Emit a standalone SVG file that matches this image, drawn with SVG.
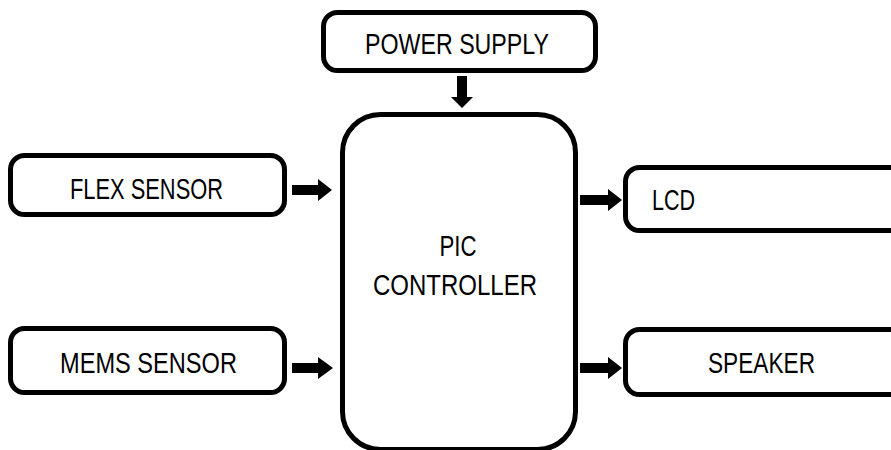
<svg xmlns="http://www.w3.org/2000/svg" width="891" height="450" viewBox="0 0 891 450">
<style>
.box{fill:#fff;stroke:#000;stroke-width:5}
.lbl{font-family:"Liberation Sans",Arial,sans-serif;font-size:29px;fill:#000}
.arr{fill:#000;stroke:none}
</style>
<rect width="891" height="450" fill="#fff"/>
<g id="power">
<rect class="box" x="323.5" y="12.5" width="272" height="58" rx="14"/>
<text class="lbl" x="457" y="54" text-anchor="middle" textLength="184" lengthAdjust="spacingAndGlyphs">POWER SUPPLY</text>
</g>
<g id="flex">
<rect class="box" x="10.5" y="155.5" width="274" height="59" rx="14"/>
<text class="lbl" x="146.5" y="199" text-anchor="middle" textLength="153" lengthAdjust="spacingAndGlyphs">FLEX SENSOR</text>
</g>
<g id="mems">
<rect class="box" x="10.5" y="328.5" width="274" height="64" rx="14"/>
<text class="lbl" x="148.5" y="373" text-anchor="middle" textLength="177" lengthAdjust="spacingAndGlyphs">MEMS SENSOR</text>
</g>
<g id="pic">
<rect class="box" x="342.5" y="114.5" width="233" height="335" rx="38"/>
<text class="lbl" x="458" y="256" text-anchor="middle" textLength="37" lengthAdjust="spacingAndGlyphs">PIC</text>
<text class="lbl" x="455" y="295" text-anchor="middle" textLength="164" lengthAdjust="spacingAndGlyphs">CONTROLLER</text>
</g>
<g id="lcd">
<rect class="box" x="625.5" y="167.5" width="300" height="63" rx="14"/>
<text class="lbl" x="652" y="210" textLength="43" lengthAdjust="spacingAndGlyphs">LCD</text>
</g>
<g id="speaker">
<rect class="box" x="625.5" y="329.5" width="300" height="65" rx="14"/>
<text class="lbl" x="708" y="373" textLength="107" lengthAdjust="spacingAndGlyphs">SPEAKER</text>
</g>
<g id="connectors">
<polygon class="arr" points="457,76 467,76 467,97 473,97 462,108 451,97 457,97"/>
<polygon class="arr" points="292,185 318,185 318,179 332,190 318,201 318,195 292,195"/>
<polygon class="arr" points="292,363 318,363 318,357 333,368 318,379 318,373 292,373"/>
<polygon class="arr" points="580,195 608,195 608,189 622,200 608,211 608,205 580,205"/>
<polygon class="arr" points="580,363 608,363 608,357 622,368 608,379 608,373 580,373"/>
</g>
</svg>
